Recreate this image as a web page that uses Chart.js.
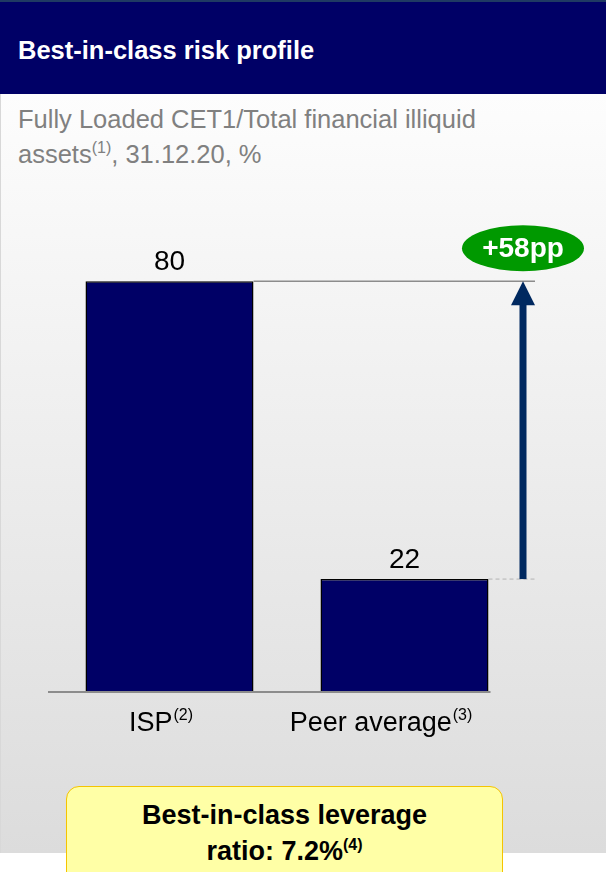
<!DOCTYPE html>
<html>
<head>
<meta charset="utf-8">
<script src="https://cdn.jsdelivr.net/npm/chart.js@4/dist/chart.umd.min.js"></script>
<style>
  body { margin: 0; width: 606px; height: 872px; overflow: hidden; background: #fff; font-family: Arial, "Liberation Sans", sans-serif; }
  #page { position: relative; width: 606px; height: 872px; }
  #header { position: absolute; left: 0; top: 0; width: 606px; height: 94px; background: #000066; border-top: 2px solid #1f3a63; box-sizing: border-box; }
  #header h1 { margin: 0; position: absolute; left: 18px; top: 33px; color: #fff; font-size: 25.5px; font-weight: bold; line-height: 30px; }
  #panel { position: absolute; left: 0; top: 94px; width: 606px; height: 759px; background: linear-gradient(#fdfdfd, #dcdcdc); border-left: 1px solid #d8d8d8; box-sizing: border-box; }
  #subtitle { position: absolute; left: 18px; top: 102px; color: #808080; font-size: 25.5px; line-height: 35px; }
  sup { font-size: 16px; vertical-align: 0; position: relative; top: -10px; }
  #box { position: absolute; left: 66px; top: 786px; width: 437px; height: 100px; background: #ffffa6; border: 1px solid #f5c400; border-radius: 13px; box-sizing: border-box; text-align: center; font-weight: bold; font-size: 27px; line-height: 36px; padding-top: 10px; color: #000; }
  #chartWrap { position: absolute; left: 0; top: 0; width: 606px; height: 872px; pointer-events: none; }
</style>
</head>
<body>
<div id="page">
  <div id="header"><h1>Best-in-class risk profile</h1></div>
  <div id="panel"></div>
  <div id="subtitle">Fully Loaded CET1/Total financial illiquid<br>assets<sup>(1)</sup>, 31.12.20, %</div>
  <div id="box">Best-in-class leverage<br>ratio: 7.2%<sup>(4)</sup></div>
  <div id="chartWrap"><canvas id="myChart"></canvas></div>
</div>
<script>
// chart values
const categories = ['ISP', 'Peer average'];
const notes = ['(2)', '(3)'];
const values = [80, 22];
const gapLabel = '+58pp';

// label nudges (px) so the category text sits like the original
const labelShift = [-9, -24];

// custom drawing: value labels, reference lines, arrow, bubble, category labels
const extras = {
  id: 'extras',
  afterDatasetsDraw(chart) {
    const ctx = chart.ctx;
    const x = chart.scales.x, y = chart.scales.y;
    const area = chart.chartArea;
    const meta = chart.getDatasetMeta(0);
    const yHi = y.getPixelForValue(values[0]);
    const yLo = y.getPixelForValue(values[1]);
    const arrowX = area.right + 1;
    const lineEnd = area.right + 13;

    ctx.save();
    // axis line
    ctx.strokeStyle = '#8c8c8c';
    ctx.lineWidth = 2;
    ctx.beginPath();
    ctx.moveTo(area.left - 4, area.bottom);
    ctx.lineTo(meta.data[1].x + meta.data[1].width / 2 + 2, area.bottom);
    ctx.stroke();

    // solid line from the top of the first bar
    ctx.strokeStyle = '#8c8c8c';
    ctx.lineWidth = 1.5;
    ctx.beginPath();
    ctx.moveTo(meta.data[0].x + meta.data[0].width / 2, yHi);
    ctx.lineTo(lineEnd, yHi);
    ctx.stroke();

    // dashed line from the top of the second bar
    ctx.strokeStyle = '#b4b4b4';
    ctx.lineWidth = 1;
    ctx.setLineDash([4, 3]);
    ctx.beginPath();
    ctx.moveTo(meta.data[1].x + meta.data[1].width / 2, yLo);
    ctx.lineTo(lineEnd, yLo);
    ctx.stroke();
    ctx.setLineDash([]);

    // arrow
    ctx.fillStyle = '#002960';
    ctx.fillRect(arrowX - 3.5, yHi + 22, 7, yLo - yHi - 22);
    ctx.beginPath();
    ctx.moveTo(arrowX, yHi);
    ctx.lineTo(arrowX - 12, yHi + 24);
    ctx.lineTo(arrowX + 12, yHi + 24);
    ctx.closePath();
    ctx.fill();

    // green bubble
    ctx.fillStyle = '#009900';
    ctx.beginPath();
    ctx.ellipse(arrowX, yHi - 33, 61, 23, 0, 0, Math.PI * 2);
    ctx.fill();
    ctx.fillStyle = '#fff';
    ctx.font = 'bold 28px Arial, "Liberation Sans", sans-serif';
    ctx.textAlign = 'center';
    ctx.textBaseline = 'middle';
    ctx.fillText(gapLabel, arrowX, yHi - 32);

    // value labels
    ctx.fillStyle = '#000';
    ctx.font = '28px Arial, "Liberation Sans", sans-serif';
    ctx.textBaseline = 'alphabetic';
    meta.data.forEach((bar, i) => {
      ctx.fillText(String(values[i]), bar.x, bar.y - 11);
    });

    // category labels with note superscripts
    const mainFont = '27px Arial, "Liberation Sans", sans-serif';
    const supFont = '16px Arial, "Liberation Sans", sans-serif';
    categories.forEach((c, i) => {
      const cx = x.getPixelForValue(i) + labelShift[i];
      ctx.font = mainFont;
      const w1 = ctx.measureText(c).width;
      ctx.font = supFont;
      const w2 = ctx.measureText(notes[i]).width;
      const start = cx - (w1 + w2) / 2;
      ctx.textAlign = 'left';
      ctx.font = mainFont;
      ctx.fillText(c, start, area.bottom + 39);
      ctx.font = supFont;
      ctx.fillText(notes[i], start + w1 + 1, area.bottom + 28);
    });
    ctx.restore();
  }
};

const ctx = document.getElementById('myChart');
const myChart = new Chart(ctx, {
  type: 'bar',
  data: {
    labels: categories,
    datasets: [{
      data: values,
      backgroundColor: '#000066',
      borderColor: '#000000',
      borderWidth: 1.5,
      barPercentage: 0.715,
      categoryPercentage: 1
    }]
  },
  options: {
    responsive: true,
    maintainAspectRatio: false,
    animation: false,
    layout: { padding: { left: 52, right: 84, top: 230, bottom: 180 } },
    scales: {
      x: { display: false },
      y: { display: false, min: 0, max: 90 }
    },
    plugins: {
      legend: { display: false },
      tooltip: { enabled: false }
    }
  },
  plugins: [extras]
});
</script>
</body>
</html>
